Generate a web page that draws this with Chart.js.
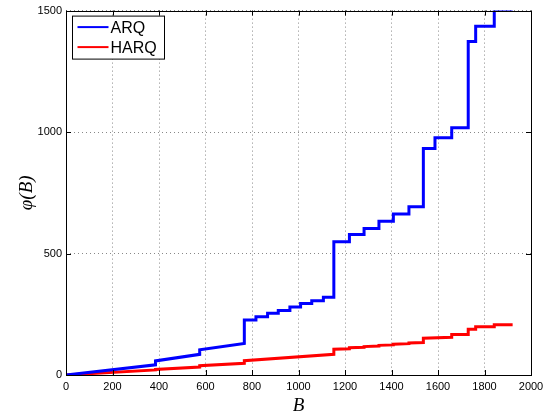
<!DOCTYPE html>
<html>
<head>
<meta charset="utf-8">
<script src="https://cdn.jsdelivr.net/npm/chart.js@4.4.0/dist/chart.umd.min.js"></script>
<style>
  body { margin: 0; background: #fff; }
  #wrap { width: 556px; height: 419px; }
</style>
</head>
<body>
<div id="wrap"><canvas id="meuGrafico" width="556" height="419"></canvas></div>
<script>
// data (B, phi(B)); repeated B = vertical jump
var arqB   = [0, 385, 385, 575, 575, 767, 767, 817, 817, 867, 867, 913, 913, 963, 963, 1009, 1009, 1057, 1057, 1107, 1107, 1152, 1152, 1219, 1219, 1282, 1282, 1346, 1346, 1408, 1408, 1475, 1475, 1537, 1537, 1587, 1587, 1659, 1659, 1730, 1730, 1762, 1762, 1842, 1842, 1921]
var arqPhi = [0, 42, 58, 85, 104, 130, 226, 226, 240, 240, 254, 254, 266, 266, 280, 280, 294, 294, 306, 306, 320, 320, 548, 548, 578, 578, 603, 603, 633, 633, 663, 663, 693, 693, 932, 932, 977, 977, 1018, 1018, 1373, 1373, 1436, 1436, 1500, 1500]

var harqB   = [0, 385, 385, 575, 575, 767, 767, 1152, 1152, 1219, 1219, 1282, 1282, 1346, 1346, 1408, 1408, 1475, 1475, 1537, 1537, 1659, 1659, 1730, 1730, 1762, 1762, 1842, 1842, 1921]
var harqPhi = [0, 21, 23, 33, 38, 48, 59, 85, 106, 108, 112, 114, 117, 119, 122, 124, 127, 129, 132, 134, 151, 155, 167, 167, 188, 188, 199, 199, 207, 207]

var serieNomes = ['ARQ', 'HARQ']
var serieCores = ['#0000ff', '#ff0000']

var xTicks = [0, 200, 400, 600, 800, 1000, 1200, 1400, 1600, 1800, 2000]
var yTicks = [0, 500, 1000, 1500]

function pontos(xs, ys) {
    return xs.map(function (x, i) { return { x: x, y: ys[i] } })
}

// MATLAB style: box round the axes, ticks pointing inwards, legend box inside
var moldura = {
    id: 'moldura',
    afterDatasetsDraw: function (chart) {
        var c = chart.ctx, a = chart.chartArea
        var sx = chart.scales.x, sy = chart.scales.y
        c.save()
        c.strokeStyle = '#000'
        c.lineWidth = 1
        c.beginPath()
        xTicks.forEach(function (t) {
            var px = Math.round(sx.getPixelForValue(t)) + 0.5
            c.moveTo(px, a.bottom); c.lineTo(px, a.bottom - 5)
            c.moveTo(px, a.top); c.lineTo(px, a.top + 5)
        })
        yTicks.forEach(function (t) {
            var py = Math.round(sy.getPixelForValue(t)) + 0.5
            c.moveTo(a.left, py); c.lineTo(a.left + 5, py)
            c.moveTo(a.right, py); c.lineTo(a.right - 5, py)
        })
        c.stroke()
        c.strokeRect(Math.round(a.left) + 0.5, Math.round(a.top) + 0.5,
            Math.round(a.right - a.left), Math.round(a.bottom - a.top))

        // legend
        var lx = a.left + 6.5, ly = a.top + 5.5, lw = 92, lh = 43
        c.fillStyle = '#fff'
        c.fillRect(lx, ly, lw, lh)
        c.strokeRect(lx, ly, lw, lh)
        c.font = '16px "Liberation Sans", Arial, sans-serif'
        c.textBaseline = 'middle'
        serieNomes.forEach(function (nome, i) {
            var yy = ly + 11 + i * 20
            c.strokeStyle = serieCores[i]
            c.lineWidth = 2
            c.beginPath()
            c.moveTo(lx + 5, yy); c.lineTo(lx + 36, yy)
            c.stroke()
            c.fillStyle = '#000'
            c.fillText(nome, lx + 38, yy + 1)
        })
        c.restore()
    }
}

var ctx = document.getElementById('meuGrafico').getContext('2d')
var meuGrafico = new Chart(ctx, {
    type: 'line',
    data: {
        datasets: [{
            label: serieNomes[0],
            data: pontos(arqB, arqPhi),
            borderColor: serieCores[0],
            borderWidth: 3,
            pointRadius: 0,
            tension: 0
        }, {
            label: serieNomes[1],
            data: pontos(harqB, harqPhi),
            borderColor: serieCores[1],
            borderWidth: 3,
            pointRadius: 0,
            tension: 0
        }]
    },
    options: {
        responsive: false,
        animation: false,
        layout: { padding: { left: 0, top: 9, right: 25, bottom: 0 } },
        plugins: {
            legend: { display: false },
            tooltip: { enabled: false }
        },
        scales: {
            x: {
                type: 'linear',
                min: 0,
                max: 2000,
                afterBuildTicks: function (s) { s.ticks = xTicks.map(function (v) { return { value: v } }) },
                afterFit: function (s) { s.height = 44 },
                grid: { color: '#888', drawTicks: false },
                border: { display: false, dash: [1, 3] },
                ticks: {
                    color: '#000', padding: 5, maxRotation: 0,
                    font: { family: '"Liberation Sans", Arial, sans-serif', size: 11 },
                    callback: function (v) { return String(v) }
                },
                title: { display: true, text: 'B', color: '#000', padding: { top: 0, bottom: 2 }, font: { family: '"Liberation Serif", "Times New Roman", serif', size: 19, style: 'italic' } }
            },
            y: {
                min: 0,
                max: 1500,
                afterBuildTicks: function (s) { s.ticks = yTicks.map(function (v) { return { value: v } }) },
                afterFit: function (s) { s.width = 66 },
                grid: { color: '#888', drawTicks: false },
                border: { display: false, dash: [1, 3] },
                ticks: {
                    color: '#000', padding: 4,
                    font: { family: '"Liberation Sans", Arial, sans-serif', size: 11 },
                    callback: function (v) { return String(v) }
                },
                title: { display: true, text: 'φ(B)', color: '#000', padding: { top: 16, bottom: 0 }, font: { family: '"Liberation Serif", "Times New Roman", serif', size: 19, style: 'italic' } }
            }
        }
    },
    plugins: [moldura]
})
</script>
</body>
</html>
